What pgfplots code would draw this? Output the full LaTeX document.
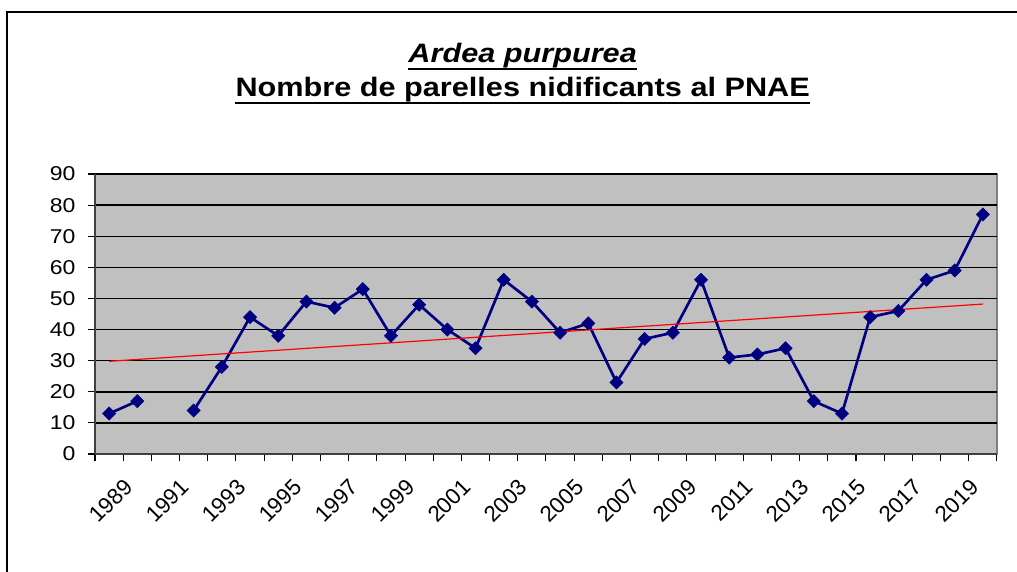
\documentclass[border=0pt]{standalone}
\usepackage{fontspec}
\setmainfont{Liberation Sans}[FakeStretch=1.15]
\newfontfamily\yearfont{Liberation Sans}
\usepackage{pgfplots}
\pgfplotsset{compat=1.18}
\definecolor{plotgray}{HTML}{C0C0C0}
\definecolor{edgegray}{HTML}{808080}
\definecolor{axisdark}{HTML}{404040}
\definecolor{serie}{HTML}{000080}
\begin{document}
\begin{tikzpicture}
\useasboundingbox (0pt,0pt) rectangle (762.75pt,-428.25pt);
\begin{scope}
\clip (0pt,0pt) rectangle (762.75pt,-428.25pt);
\draw[line width=1.1pt] (5.25pt,-440pt) -- (5.25pt,-9pt) -- (780pt,-9pt);
\end{scope}

% titol
\node[inner sep=0pt, anchor=base, font=\fontsize{20}{24}\selectfont\bfseries\itshape] (t1) at (392pt,-46.5pt) {Ardea purpurea};
\draw[line width=1.8pt] ([yshift=-5.2pt]t1.base west) -- ([yshift=-5.2pt]t1.base east);
\node[inner sep=0pt, anchor=base, font=\fontsize{20}{24}\selectfont\bfseries] (t2) at (392pt,-72pt) {Nombre de parelles nidificants al PNAE};
\draw[line width=1.8pt] ([yshift=-5.2pt]t2.base west) -- ([yshift=-5.2pt]t2.base east);

\begin{axis}[
    at={(71.25pt,-340.5pt)}, anchor=south west,
    scale only axis, width=676.5pt, height=210pt,
    xmin=1988.5, xmax=2020.5, ymin=0, ymax=90,
    axis background/.style={fill=plotgray, draw=edgegray, line width=1.5pt},
    axis x line*=bottom, axis y line*=left,
    axis line style={draw=axisdark, line width=1.3pt},
    tick style={draw=black, line width=0.8pt},
    tick align=outside, major tick length=5.5pt, minor tick length=5.5pt,
    xtick={1989,1991,...,2019},
    xticklabels={1989,1991,1993,1995,1997,1999,2001,2003,2005,2007,2009,2011,2013,2015,2017,2019},
    minor xtick={1988.5,1989.5,...,2020.5},
    major x tick style={draw=none},
    ytick={0,10,...,90},
    ymajorgrids, grid style={draw=black, line width=1.1pt},
    xticklabel style={rotate=45, anchor=east, inner sep=0pt, yshift=-22pt, xshift=-1pt,
        font=\yearfont\fontsize{16.8}{20}\selectfont},
    yticklabel style={inner sep=0pt, xshift=-9pt, font=\fontsize{15}{18}\selectfont},
    /pgf/number format/assume math mode=true,
    unbounded coords=jump,
    clip=false,
]
\addplot[color=serie, line width=2pt, mark=square*, mark size=3.5pt,
    mark options={rotate=45, fill=serie, draw=serie, line width=0.4pt}] coordinates {
    (1989,13) (1990,17) (1991,nan) (1992,14) (1993,28) (1994,44) (1995,38)
    (1996,49) (1997,47) (1998,53) (1999,38) (2000,48) (2001,40) (2002,34)
    (2003,56) (2004,49) (2005,39) (2006,42) (2007,23) (2008,37) (2009,39)
    (2010,56) (2011,31) (2012,32) (2013,34) (2014,17) (2015,13) (2016,44)
    (2017,46) (2018,56) (2019,59) (2020,77)
};
\addplot[color=red, line width=0.9pt] coordinates {(1989,29.8) (2020,48.2)};
\end{axis}
\end{tikzpicture}
\end{document}
